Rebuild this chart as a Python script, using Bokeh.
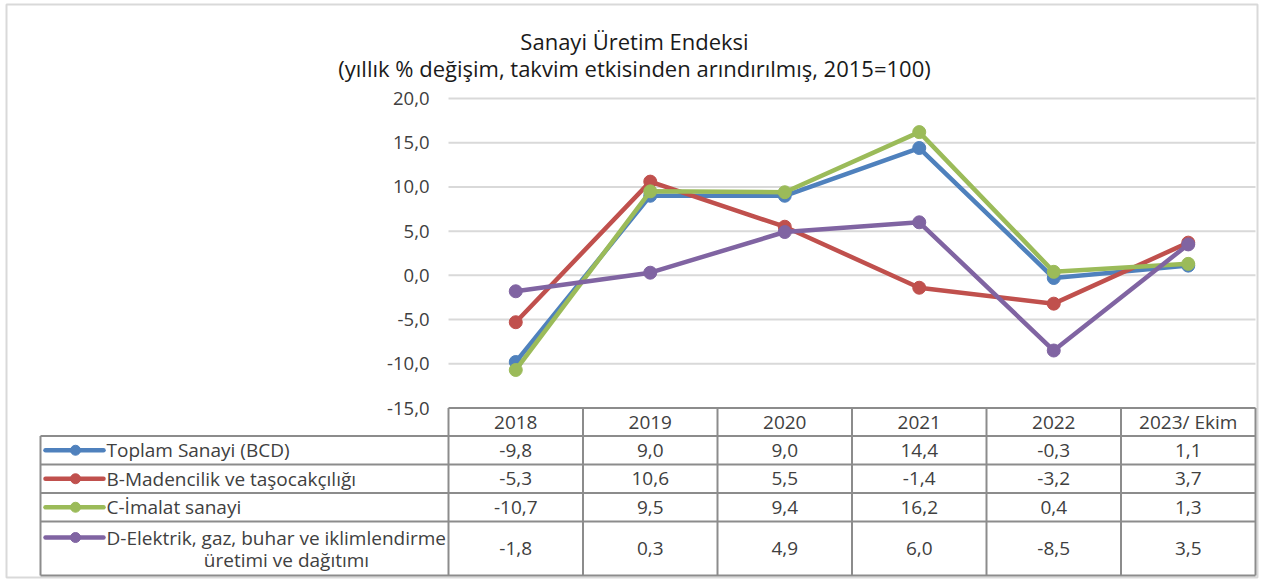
from bokeh.plotting import figure
from bokeh.models import Range1d
from bokeh.embed import file_html
from bokeh.resources import INLINE
from bokeh.core.properties import value

# ---------------- data ----------------
categories = ["2018", "2019", "2020", "2021", "2022", "2023/ Ekim"]
series_names = [
    "Toplam Sanayi (BCD)",
    "B-Madencilik ve taşocakçılığı",
    "C-İmalat sanayi",
    "D-Elektrik, gaz, buhar ve iklimlendirme",
]
series_names_line2 = ["", "", "", "üretimi ve dağıtımı"]
toplam = [-9.8, 9.0, 9.0, 14.4, -0.3, 1.1]
madencilik = [-5.3, 10.6, 5.5, -1.4, -3.2, 3.7]
imalat = [-10.7, 9.5, 9.4, 16.2, 0.4, 1.3]
elektrik = [-1.8, 0.3, 4.9, 6.0, -8.5, 3.5]
y_ticks = [-15, -10, -5, 0, 5, 10, 15, 20]
title_lines = ["Sanayi Üretim Endeksi",
               "(yıllık % değişim, takvim etkisinden arındırılmış, 2015=100)"]

series = [toplam, madencilik, imalat, elektrik]
colors = ["#4F81BD", "#C0504D", "#9BBB59", "#8064A2"]

def fmt(v):
    return f"{v:.1f}".replace(".", ",")

# ---------------- layout (reference pixel space) ----------------
W, H = 1261, 579
X0, X1 = 0, 1261
Y0, Y1 = 0, 579
PL, PR = 448, 1255          # plot / table columns left & right
PT, PB = 98, 407.5          # y of top tick and bottom tick
YMAX, YMIN = 20, -15
LEG_L = 40
ROW_LINES = [407.5, 435.5, 464, 492.5, 521, 575]
FONT = value("Open Sans")
TXT = "#404040"
FS = "19px"

ncol = len(categories)
colw = (PR - PL) / ncol
ppu = (PB - PT) / (YMAX - YMIN)

def val_at(y):
    return YMAX - (y - PT) / ppu

def idx_at(x):
    return (x - PL) / colw - 0.5

p = figure(width=W, height=H, x_range=Range1d(X0, X1), y_range=Range1d(Y1, Y0),
           min_border=0, toolbar_location=None, output_backend="svg",
           x_axis_location=None, y_axis_location=None, outline_line_color=None)
p.grid.visible = False
p.extra_x_ranges = {"cat": Range1d(idx_at(X0), idx_at(X1))}
p.extra_y_ranges = {"val": Range1d(val_at(Y1), val_at(Y0))}

# outer border
p.quad(left=[6], right=[1257], top=[4], bottom=[577], fill_color=None,
       line_color="#d9d9d9", line_width=2)

# title
p.text(x=[634, 634], y=[40, 67], text=title_lines, text_align="center",
       text_baseline="middle", text_font=FONT, text_font_size="22px", text_color="#1a1a1a")

# gridlines
grid_vals = [t for t in y_ticks if t != YMIN]
p.segment(x0=[PL] * len(grid_vals), x1=[PR] * len(grid_vals), y0=grid_vals, y1=grid_vals,
          y_range_name="val", line_color="#d9d9d9", line_width=2)

# y tick labels
p.text(x=[429] * len(y_ticks), y=y_ticks, text=[fmt(t) for t in y_ticks],
       y_range_name="val", text_align="right", text_baseline="middle",
       text_font=FONT, text_font_size="18.5px", text_color=TXT)

# series lines
xs = list(range(ncol))
for vals, c in zip(series, colors):
    p.line(x=xs, y=vals, x_range_name="cat", y_range_name="val", line_color=c,
           line_width=4.5, line_join="round")
    p.scatter(x=xs, y=vals, x_range_name="cat", y_range_name="val", size=13,
              fill_color=c, line_color=c)

# table grid
TL = "#8c8c8c"
col_edges = [PL + k * colw for k in range(ncol + 1)]
p.segment(x0=col_edges, x1=col_edges, y0=[ROW_LINES[0]] * len(col_edges),
          y1=[ROW_LINES[-1]] * len(col_edges), line_color=TL, line_width=2)
p.segment(x0=[LEG_L], x1=[LEG_L], y0=[ROW_LINES[1]], y1=[ROW_LINES[-1]],
          line_color=TL, line_width=2)
p.segment(x0=[PL], x1=[PR], y0=[ROW_LINES[0]], y1=[ROW_LINES[0]], line_color=TL, line_width=2)
p.segment(x0=[LEG_L] * 5, x1=[PR] * 5, y0=ROW_LINES[1:], y1=ROW_LINES[1:],
          line_color=TL, line_width=2)

# header
hy = (ROW_LINES[0] + ROW_LINES[1]) / 2
p.text(x=[PL + (i + 0.5) * colw for i in range(ncol)], y=[hy] * ncol, text=categories,
       text_align="center", text_baseline="middle", text_font=FONT,
       text_font_size=FS, text_color=TXT)

# rows
for r, (vals, c) in enumerate(zip(series, colors)):
    top, bot = ROW_LINES[r + 1], ROW_LINES[r + 2]
    cy = (top + bot) / 2
    ly = cy if not series_names_line2[r] else top + 16
    p.segment(x0=[45], x1=[103], y0=[ly], y1=[ly], line_color=c, line_width=4.5,
              line_cap="round")
    p.scatter(x=[75], y=[ly], size=10, fill_color=c, line_color=c)
    p.text(x=[106], y=[ly], text=[series_names[r]], text_align="left",
           text_baseline="middle", text_font=FONT, text_font_size=FS, text_color=TXT)
    if series_names_line2[r]:
        p.text(x=[286], y=[ly + 22], text=[series_names_line2[r]], text_align="center",
               text_baseline="middle", text_font=FONT, text_font_size=FS, text_color=TXT)
    p.text(x=[PL + (i + 0.5) * colw for i in range(ncol)], y=[cy] * ncol,
           text=[fmt(v) for v in vals], text_align="center", text_baseline="middle",
           text_font=FONT, text_font_size=FS, text_color=TXT)

open("out.html", "w").write(file_html(p, INLINE))
